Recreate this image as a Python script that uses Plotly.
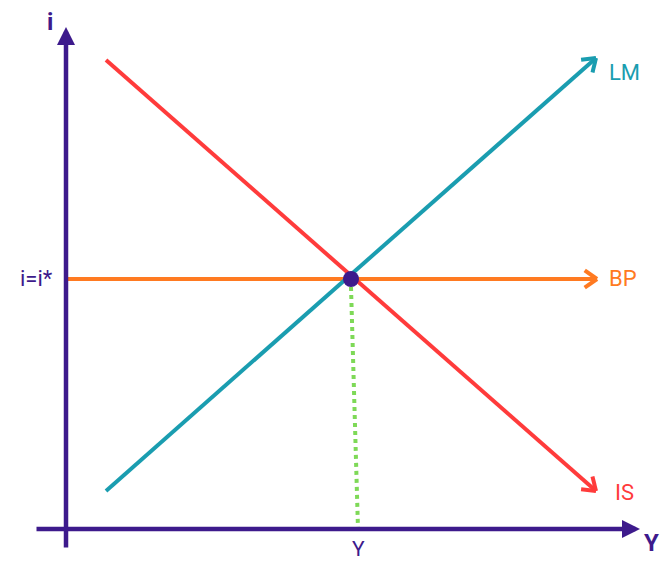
import numpy as np
import plotly.graph_objects as go

# curve endpoints (x = output Y, y = interest rate i), origin at the axes crossing
lm_x = [40, 530]
lm_y = [38, 471]
is_x = [40, 530]
is_y = [469, 38]
bp_x = [2, 531]
bp_y = [250, 250]
eq_x = [285]
eq_y = [250]
drop_x = [285, 292]
drop_y = [242, 0]

purple = "#3d1a8c"
teal = "#1a9db0"
red = "#ff3b3b"
orange = "#ff7a21"
green = "#7ed957"

fig = go.Figure()


def chevron(x, y, color, size=15, ang=35):
    # open arrow head at the last point of the line
    dx, dy = x[-1] - x[-2], y[-1] - y[-2]
    a = np.arctan2(dy, dx)
    xs, ys = [], []
    for s in (1, -1):
        b = a + np.pi - s * np.radians(ang)
        xs += [x[-1] + size * np.cos(b), x[-1], None]
        ys += [y[-1] + size * np.sin(b), y[-1], None]
    fig.add_trace(go.Scatter(x=xs, y=ys, mode="lines", line=dict(color=color, width=4),
                             hoverinfo="skip", showlegend=False))


for xs, ys, c in [(bp_x, bp_y, orange), (lm_x, lm_y, teal), (is_x, is_y, red)]:
    fig.add_trace(go.Scatter(x=xs, y=ys, mode="lines", line=dict(color=c, width=4),
                             hoverinfo="skip", showlegend=False))
    chevron(xs, ys, c)

fig.add_trace(go.Scatter(x=drop_x, y=drop_y, mode="lines", line=dict(color=green, width=4, dash="dot"),
                         hoverinfo="skip", showlegend=False))
fig.add_trace(go.Scatter(x=eq_x, y=eq_y, mode="markers", marker=dict(color=purple, size=16),
                         hoverinfo="skip", showlegend=False))

# axes with filled arrow heads
fig.add_annotation(x=0, y=502, ax=0, ay=-20, xref="x", yref="y", axref="x", ayref="y",
                   text="", showarrow=True, arrowhead=2, arrowsize=0.8, arrowwidth=4.5, arrowcolor=purple)
fig.add_annotation(x=574, y=0, ax=-31, ay=0, xref="x", yref="y", axref="x", ayref="y",
                   text="", showarrow=True, arrowhead=2, arrowsize=0.8, arrowwidth=4.5, arrowcolor=purple)

labels = [
    (-16, 507, "<b>i</b>", purple, 24),
    (585, -14, "<b>Y</b>", purple, 24),
    (-30, 251, "i=i*", purple, 22),
    (292, -20, "Y", purple, 21),
    (558, 457, "LM", teal, 22),
    (557, 251, "BP", orange, 22),
    (558, 37, "IS", red, 22),
]
for x, y, t, c, s in labels:
    fig.add_annotation(x=x, y=y, text=t, showarrow=False, font=dict(color=c, size=s, family="Roboto"))

# ranges offset by the page's 8px body margin
fig.update_xaxes(range=[-58, 613], visible=False, fixedrange=True)
fig.update_yaxes(range=[-55, 521], visible=False, fixedrange=True)
fig.update_layout(width=671, height=576, margin=dict(l=0, r=0, t=0, b=0),
                  plot_bgcolor="white", paper_bgcolor="white", showlegend=False)
fig.write_html("out.html")
